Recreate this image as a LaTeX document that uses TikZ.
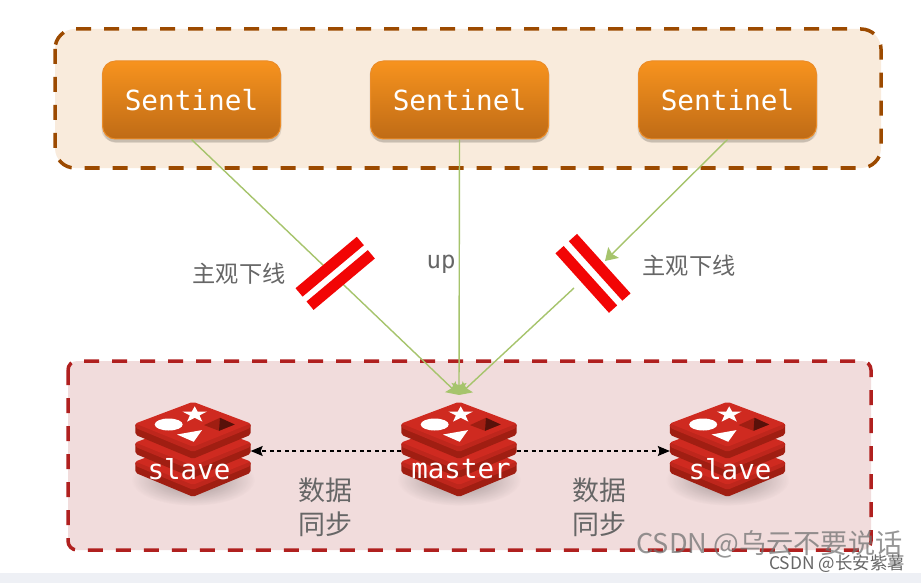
\documentclass[tikz,border=0pt]{standalone}
\usepackage{fontspec}
\setmainfont{Liberation Sans}
\newfontfamily\cjkf{Noto Sans CJK SC}
\newfontfamily\monof{DejaVu Sans Mono}
\usetikzlibrary{arrows.meta,fadings}
\tikzfading[name=softedge,inner color=transparent!0,outer color=transparent!100]
\definecolor{greenline}{HTML}{A6C46C}
\definecolor{topfill}{HTML}{F9EBDC}
\definecolor{topdash}{HTML}{9C4A00}
\definecolor{botfill}{HTML}{F1DCDC}
\definecolor{botdash}{HTML}{B0201F}
\definecolor{redface}{HTML}{CF2A20}
\definecolor{redside}{HTML}{A01E12}
\definecolor{redmid}{HTML}{BE261C}
\definecolor{strip}{HTML}{EEF0F5}
\definecolor{txtgray}{HTML}{666666}
\definecolor{barred}{HTML}{F20505}
\definecolor{senttop}{HTML}{F7931E}
\definecolor{sentbot}{HTML}{BF6B16}
\definecolor{sentedge}{HTML}{EB8C28}
\tikzset{
  groupbox/.style={line width=3.5pt,dash pattern=on 15pt off 13pt},
  sentinelbox/.style={rounded corners=13pt,minimum width=178pt,minimum height=78pt,inner sep=0pt,
    top color=senttop,bottom color=sentbot,
    draw=sentedge,line width=1pt,text=white,font=\monof\fontsize{27.7}{27.7}\selectfont},
  sentshadow/.style={rounded corners=13pt,fill=black,opacity=.1,minimum width=180pt,minimum height=80pt,inner sep=0pt},
  link/.style={greenline,line width=1.4pt},
  tipped/.style={-{Stealth[length=12pt,width=15pt,inset=2pt]}},
  syncline/.style={black,line width=1.1pt,dash pattern=on 4pt off 3.5pt,-{Stealth[length=12pt,width=10pt,inset=2pt]}},
  barshape/.style={fill=barred,minimum width=80pt,minimum height=11pt,inner sep=0pt},
  barback/.style={fill=white,minimum width=78pt,minimum height=16pt,inner sep=0pt},
  graylabel/.style={text=txtgray,font=\cjkf\fontsize{23.2}{23.2}\selectfont,inner sep=0pt},
  synclabel/.style={text=txtgray,font=\cjkf\fontsize{27}{34}\selectfont,inner sep=0pt,align=center},
  logotext/.style={text=white,font=\monof\fontsize{27.5}{27.5}\selectfont,inner sep=0pt},
  logoanchor/.style={minimum width=115pt,minimum height=98pt,inner sep=0pt},
  wmark/.style={inner sep=0pt,font=\cjkf},
  redislayer/.pic={
    \fill[redside,rounded corners=2pt] (-57.7,21.7) -- (-57.7,33) -- (0,57) -- (57.7,33) -- (57.7,21.7) -- cycle;
    \fill[redmid,rounded corners=2pt] (-57.7,21.7) -- (-57.7,26) -- (0,50) -- (57.7,26) -- (57.7,21.7) -- cycle;
    \fill[redface,rounded corners=2pt] (0,0) -- (-57.7,21.7) -- (0,45) -- (57.7,21.7) -- cycle;
  },
  redislogo/.pic={
    \fill[black,opacity=.35,path fading=softedge,fit fading=true] (0,78) ellipse (62 and 26);
    \pic at (0,38) {redislayer};
    \pic at (0,19) {redislayer};
    \pic at (0,0) {redislayer};
    \fill[white] (-24.3,22.7) ellipse (14 and 6);
    \fill[white] (-16,32.7) -- (9,28.3) -- (0.7,40) -- cycle;
    \begin{scope}[shift={(1.7,12.5)}]
      \fill[white] (0,-8) -- (2.9,-2.8) -- (12.4,-2.8) -- (4.8,1.1) -- (7.6,7.3) -- (0,3.5)
        -- (-7.6,7.3) -- (-4.8,1.1) -- (-12.4,-2.8) -- (-2.9,-2.8) -- cycle;
    \end{scope}
    \fill[redside] (11,23.3) -- (27,16) -- (41.7,22.7) -- (26,29) -- cycle;
    \fill[black!45!redside] (27,16) -- (41.7,22.7) -- (26,29) -- cycle;
  }
}
\begin{document}
\begin{tikzpicture}[x=1pt,y=-1pt]
\useasboundingbox (0,0) rectangle (921,583);
\fill[white] (0,0) rectangle (921,583);
\fill[strip] (0,573) rectangle (921,583);
% group boxes
\draw[groupbox,fill=topfill,draw=topdash,rounded corners=20pt] (55,29) rectangle (881,168);
\draw[groupbox,fill=botfill,draw=botdash,rounded corners=9pt] (68,361) rectangle (871,550);
% sentinels
\foreach \cx in {191.5,459.5,727.5}{
  \node[sentshadow] at (\cx,102) {};
  \node[sentshadow,minimum width=176pt] at (\cx,103) {};
}
\node[sentinelbox] (s1) at (191.5,100) {Sentinel};
\node[sentinelbox] (s2) at (459.5,100) {Sentinel};
\node[sentinelbox] (s3) at (727.5,100) {Sentinel};
% logos
\node[logoanchor] (slaveA) at (193,451) {};
\node[logoanchor] (master) at (459,451) {};
\node[logoanchor] (slaveB) at (727.5,451) {};
\pic at (slaveA.north) {redislogo};
\pic at (master.north) {redislogo};
\pic at (slaveB.north) {redislogo};
\node[logotext] (tA) at (189,469) {slave};
\node[logotext] (tM) at (461,469) {master};
\node[logotext] (tB) at (730,469) {slave};
% connectors
\coordinate (tip) at (459,395);
\coordinate (rstop) at (605,261);
\coordinate (rstart) at (574,288);
\draw[link,tipped] (s1.south) -- (tip);
\draw[link,tipped] (s2.south) -- (tip);
\draw[link,tipped] (rstart) -- (tip);
\draw[link,tipped] (s3.south) -- (rstop);
\draw[syncline] (master.west) -- (slaveA.east);
\draw[syncline] (master.east) -- (slaveB.west);
% bars
\node[barback,rotate=40] (bg) at (335,273) {};
\node[barshape,rotate=40] (b1) at (329.7,266.7) {};
\node[barshape,rotate=40] (b2) at (340.7,280) {};
\node[barshape,rotate=-48] (b3) at (599.7,267.3) {};
\node[barshape,rotate=-48] (b4) at (586.3,279.4) {};
% labels
\node[graylabel] (l1) at (239,274) {主观下线};
\node[graylabel] (l2) at (689,266) {主观下线};
\node[text=txtgray,font=\monof\fontsize{24}{24}\selectfont,inner sep=0pt] (l3) at (441,264) {up};
\node[synclabel] (l4) at (325,507) {数据\\同步};
\node[synclabel] (l5) at (599,507) {数据\\同步};
% watermarks
\node[wmark,text=black!55,opacity=.75,font=\cjkf\fontsize{27.2}{27.2}\selectfont,anchor=west] (w1) at (636,544) {CSDN @乌云不要说话};
\node[wmark,text=black!60,font=\cjkf\fontsize{17.4}{17.4}\selectfont,anchor=east] (w2) at (905,564) {CSDN @长安紫薯};
\end{tikzpicture}
\end{document}
